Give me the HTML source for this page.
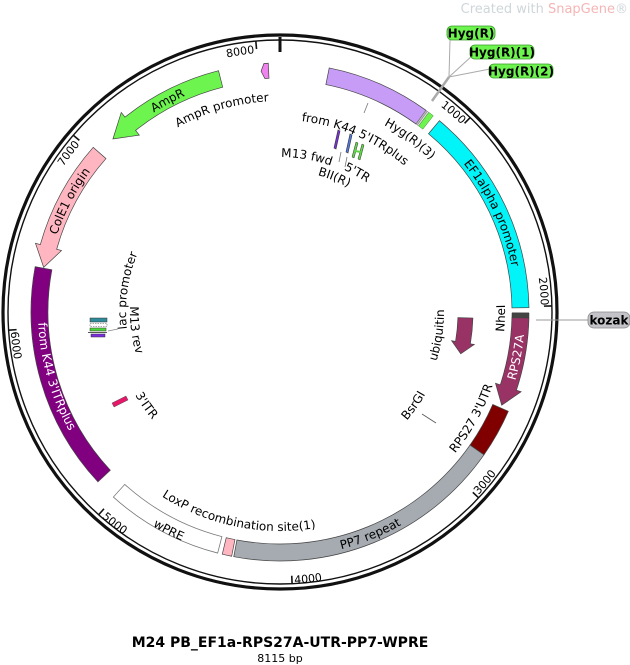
<!DOCTYPE html>
<html><head><meta charset="utf-8">
<style>
html,body{margin:0;padding:0;background:#fff;}
svg{display:block;font-family:"DejaVu Sans","Liberation Sans",sans-serif;}
.l{font-size:12px;fill:#000;}
.t{font-size:11px;fill:#000;}
</style></head>
<body>
<svg id="s" width="630" height="665" viewBox="0 0 630 665" xmlns="http://www.w3.org/2000/svg">
<defs id="defs"></defs>
<text x="628" y="13" text-anchor="end" font-size="13" fill="#cfd6da">Created with <tspan fill="#f5b5b5">SnapGene</tspan>®</text>
<g id="shapes"></g>

<!-- backbone -->
<circle cx="280" cy="312" r="277" fill="none" stroke="#111" stroke-width="3.2"/>
<circle cx="280" cy="312" r="272" fill="none" stroke="#111" stroke-width="1.4"/>
<g id="ticks"></g>

<!-- small inner features -->
<polygon points="334,148 338,130 340,131 336,149" fill="#7b2ee0" stroke="#333" stroke-width="0.6"/>
<polygon points="346,152 350,134 352,135 348,153" fill="#4f79e6" stroke="#333" stroke-width="0.6"/>
<polygon points="352,157 356,142 358,143 354,158" fill="#5fd447" stroke="#333" stroke-width="0.5"/>
<polygon points="358,159 362,144 364,145 360,160" fill="#5fd447" stroke="#333" stroke-width="0.5"/>
<line x1="355" y1="151" x2="361" y2="152" stroke="#5fd447" stroke-width="2"/>
<line x1="341" y1="152" x2="339" y2="162" stroke="#777" stroke-width="0.8"/>
<line x1="347" y1="157" x2="345" y2="167" stroke="#777" stroke-width="0.8"/>

<rect x="90" y="318" width="17" height="4" fill="#2f8a99" stroke="#333" stroke-width="0.5"/>
<rect x="90" y="323.5" width="17" height="3" fill="#fff" stroke="#555" stroke-width="0.5" stroke-dasharray="1.5,1"/>
<rect x="90" y="328" width="16" height="3" fill="#4dd63a" stroke="#333" stroke-width="0.5"/>
<rect x="88" y="332" width="19" height="1" fill="#555"/>
<rect x="91" y="334" width="14" height="3" fill="#7b2ee0" stroke="#333" stroke-width="0.5"/>
<line x1="108" y1="331" x2="118" y2="329" stroke="#888" stroke-width="0.8"/>

<polygon points="112,403 126,396 128,400 114,407" fill="#e6176b" stroke="#555" stroke-width="0.5"/>
<line x1="422" y1="414" x2="436" y2="423" stroke="#555" stroke-width="0.8"/>
<line x1="368" y1="103" x2="364" y2="113" stroke="#777" stroke-width="0.8"/>

<!-- Hyg(R) callouts -->
<line x1="450" y1="40" x2="449" y2="77" stroke="#aaa" stroke-width="1"/>
<line x1="473" y1="55" x2="449" y2="77" stroke="#aaa" stroke-width="1"/>
<line x1="490" y1="69" x2="449" y2="77" stroke="#aaa" stroke-width="1"/>
<line x1="449" y1="77" x2="432" y2="101" stroke="#aaa" stroke-width="2.5"/>
<rect x="447" y="26" width="48" height="14" rx="5" fill="#6df44f" stroke="#3a9a2a" stroke-width="0.8"/>
<text x="471" y="37.5" text-anchor="middle" font-size="12" font-weight="bold" fill="#000">Hyg(R)</text>
<rect x="470" y="45" width="64" height="14" rx="5" fill="#6df44f" stroke="#3a9a2a" stroke-width="0.8"/>
<text x="502" y="56.5" text-anchor="middle" font-size="12" font-weight="bold" fill="#000">Hyg(R)(1)</text>
<rect x="489" y="64" width="64" height="14" rx="5" fill="#6df44f" stroke="#3a9a2a" stroke-width="0.8"/>
<text x="521" y="75.5" text-anchor="middle" font-size="12" font-weight="bold" fill="#000">Hyg(R)(2)</text>

<!-- kozak -->
<line x1="536" y1="320" x2="588" y2="320" stroke="#999" stroke-width="1"/>
<rect x="588" y="312" width="42" height="16" rx="6" fill="#c4c4c8" stroke="#888" stroke-width="0.8"/>
<text x="609" y="324.5" text-anchor="middle" font-size="12" font-weight="bold" fill="#000">kozak</text>

<!-- tick labels -->
<text class="t"><textPath href="#p_8000" startOffset="50%" text-anchor="middle">8000</textPath></text>
<text class="t"><textPath href="#p_1000" startOffset="50%" text-anchor="middle">1000</textPath></text>
<text class="t"><textPath href="#p_2000" startOffset="50%" text-anchor="middle">2000</textPath></text>
<text class="t"><textPath href="#p_3000" startOffset="50%" text-anchor="middle">3000</textPath></text>
<text class="t"><textPath href="#p_4000" startOffset="50%" text-anchor="middle">4000</textPath></text>
<text class="t"><textPath href="#p_5000" startOffset="50%" text-anchor="middle">5000</textPath></text>
<text class="t"><textPath href="#p_6000" startOffset="50%" text-anchor="middle">6000</textPath></text>
<text class="t"><textPath href="#p_7000" startOffset="50%" text-anchor="middle">7000</textPath></text>

<!-- feature labels -->
<text class="l"><textPath href="#p_ampr" startOffset="50%" text-anchor="middle">AmpR</textPath></text>
<text class="l"><textPath href="#p_amprp" startOffset="50%" text-anchor="middle">AmpR promoter</textPath></text>
<text class="l"><textPath href="#p_cole1" startOffset="50%" text-anchor="middle">ColE1 origin</textPath></text>
<text class="l" style="fill:#fff"><textPath href="#p_k443" startOffset="50%" text-anchor="middle">from K44 3'ITRplus</textPath></text>
<text class="l"><textPath href="#p_ef1" startOffset="50%" text-anchor="middle">EF1alpha promoter</textPath></text>
<text class="l" style="fill:#fff"><textPath href="#p_rps" startOffset="50%" text-anchor="middle">RPS27A</textPath></text>
<text class="l"><textPath href="#p_utr" startOffset="50%" text-anchor="middle">RPS27 3'UTR</textPath></text>
<text class="l"><textPath href="#p_pp7" startOffset="50%" text-anchor="middle">PP7 repeat</textPath></text>
<text class="l"><textPath href="#p_loxp" startOffset="50%" text-anchor="middle">LoxP recombination site(1)</textPath></text>
<text class="l"><textPath href="#p_wpre" startOffset="50%" text-anchor="middle">wPRE</textPath></text>
<text class="l"><textPath href="#p_k445" startOffset="50%" text-anchor="middle">from K44 5'ITRplus</textPath></text>
<text class="l"><textPath href="#p_hyg3" startOffset="50%" text-anchor="middle">Hyg(R)(3)</textPath></text>
<text class="l"><textPath href="#p_m13f" startOffset="50%" text-anchor="middle">M13 fwd</textPath></text>
<text class="l"><textPath href="#p_bii" startOffset="50%" text-anchor="middle">BII(R)</textPath></text>
<text class="l"><textPath href="#p_5tr" startOffset="50%" text-anchor="middle">5'TR</textPath></text>
<text class="l"><textPath href="#p_lac" startOffset="50%" text-anchor="middle">lac promoter</textPath></text>
<text class="l"><textPath href="#p_m13r" startOffset="50%" text-anchor="middle">M13 rev</textPath></text>
<text class="l"><textPath href="#p_3itr" startOffset="50%" text-anchor="middle">3'ITR</textPath></text>
<text class="l"><textPath href="#p_bsrgi" startOffset="50%" text-anchor="middle">BsrGI</textPath></text>
<text class="l"><textPath href="#p_ubi" startOffset="50%" text-anchor="middle">ubiquitin</textPath></text>
<text class="l"><textPath href="#p_nhei" startOffset="50%" text-anchor="middle">NheI</textPath></text>

<text x="280" y="647" text-anchor="middle" font-size="14" font-weight="bold" fill="#000">M24 PB_EF1a-RPS27A-UTR-PP7-WPRE</text>
<text x="280" y="662" text-anchor="middle" font-size="11" fill="#000">8115 bp</text>

<script>
(function(){
var CX=280,CY=312,NS="http://www.w3.org/2000/svg";
function P(a,r){var t=a*Math.PI/180;return [CX+r*Math.sin(t),CY-r*Math.cos(t)];}
function f(p){return p[0].toFixed(2)+","+p[1].toFixed(2);}
function arc(a1,a2,r,cw){var p1=P(a1,r),p2=P(a2,r);var d=Math.abs(a2-a1);
 return "M"+f(p1)+" A"+r+","+r+" 0 "+(d>180?1:0)+","+(cw?1:0)+" "+f(p2);}
function band(a1,a2,r1,r2){var o=P(a2,r2),i=P(a1,r1);
 return arc(a1,a2,r2,1)+" L"+f(P(a2,r1))+" A"+r1+","+r1+" 0 "+((a2-a1)>180?1:0)+",0 "+f(i)+" Z";}
function arrowCW(a1,a2,r1,r2,h,e){var m=(r1+r2)/2,b=a2-h;
 return arc(a1,b,r2,1)+" L"+f(P(b,r2+e))+" L"+f(P(a2,m))+" L"+f(P(b,r1-e))+" L"+f(P(b,r1))+
 " A"+r1+","+r1+" 0 0,0 "+f(P(a1,r1))+" Z";}
function arrowCCW(tail,tip,r1,r2,h,e){var m=(r1+r2)/2,b=tip+h;
 return "M"+f(P(tail,r2))+" A"+r2+","+r2+" 0 0,0 "+f(P(b,r2))+" L"+f(P(b,r2+e))+" L"+f(P(tip,m))+" L"+f(P(b,r1-e))+" L"+f(P(b,r1))+
 " A"+r1+","+r1+" 0 0,1 "+f(P(tail,r1))+" Z";}
var g=document.getElementById("shapes");
function add(d,fill,stroke,sw){var e=document.createElementNS(NS,"path");e.setAttribute("d",d);e.setAttribute("fill",fill);
 e.setAttribute("stroke",stroke||"#444");e.setAttribute("stroke-width",sw||0.7);g.appendChild(e);}
var R1=232,R2=249;
add(band(11.4,35.9,R1,R2),"#c69cf6");
add(band(35.9,36.3,R1,R2),"#bbb","#666",0.4);
add(band(36.3,36.7,R1,R2),"#ddd","#666",0.4);
add(band(36.7,38.0,R1,R2),"#6df44f","#3a8a2a",0.5);
add(band(39.8,89.0,R1,R2),"#00f4f8");
add(band(90.2,91.4,R1,R2),"#444","#333",0.5);
add(arrowCW(91.4,112.8,R1,R2,4.5,5),"#993366");
add(band(113.5,125,R1,R2),"#800000");
add(band(125,190.7,R1,R2),"#a5abb0");
add(band(191.2,193.4,R1,R2),"#ffb6c1");
add(band(194.5,222,R1,R2),"#ffffff","#777",0.8);
add(band(227,280.5,R1,R2),"#800080");
add(arrowCCW(311.4,280.7,R1,R2,5,5),"#ffb6c1");
add(arrowCCW(345.7,316,R1,R2,5.5,6),"#6df44f");
add(arrowCCW(357.3,355.5,R1+2,R2,0.8,0),"#ee82ee");
add(arrowCW(91.8,103,178,193,3.5,4),"#993366");
// ticks
var tg=document.getElementById("ticks");
for(var k=1;k<=8;k++){var a=k*1000/8115*360;var p1=P(a,272),p2=P(a,264);
 var l=document.createElementNS(NS,"line");l.setAttribute("x1",p1[0]);l.setAttribute("y1",p1[1]);
 l.setAttribute("x2",p2[0]);l.setAttribute("y2",p2[1]);l.setAttribute("stroke","#111");l.setAttribute("stroke-width","1.6");tg.appendChild(l);}
var l0=document.createElementNS(NS,"line");l0.setAttribute("x1",280);l0.setAttribute("y1",37);l0.setAttribute("x2",280);l0.setAttribute("y2",52);
l0.setAttribute("stroke","#111");l0.setAttribute("stroke-width","3");tg.appendChild(l0);
// label paths
var defs=document.getElementById("defs");
var L=[["8000",351.3,260,1],["1000",41,261,1],["2000",85.5,261,1],["3000",129.7,270,0],["4000",174,272,0],
["5000",218,272,0],["6000",262.8,270,0],["7000",306.9,261,1],
["ampr",332,236,1],["amprp",344,211,1],["cole1",297.8,236,1],["k443",254,242,0],["ef1",65,236,1],
["rps",100.8,245,0],["utr",119,225,0],["pp7",157.9,245,0],["loxp",191.6,219,0],["wpre",207,249,0],
["k445",23.4,192,1],["hyg3",36.9,214,1],["m13f",9.8,155,1],["bii",22,142,1],["5tr",29,156,1],
["lac",278,154,1],["m13r",262.9,150,0],["3itr",235,167,0],["bsrgi",125,167,0],["ubi",98.3,164,0],["nhei",91.6,225,0]];
L.forEach(function(x){var a=x[1],r=x[2],cw=x[3],s=60;
 var d=cw?arc(a-s,a+s,r,1):arc(a+s,a-s,r,0);
 var p=document.createElementNS(NS,"path");p.setAttribute("id","p_"+x[0]);p.setAttribute("d",d);p.setAttribute("fill","none");defs.appendChild(p);});
})();
</script>
</svg>
</body></html>
